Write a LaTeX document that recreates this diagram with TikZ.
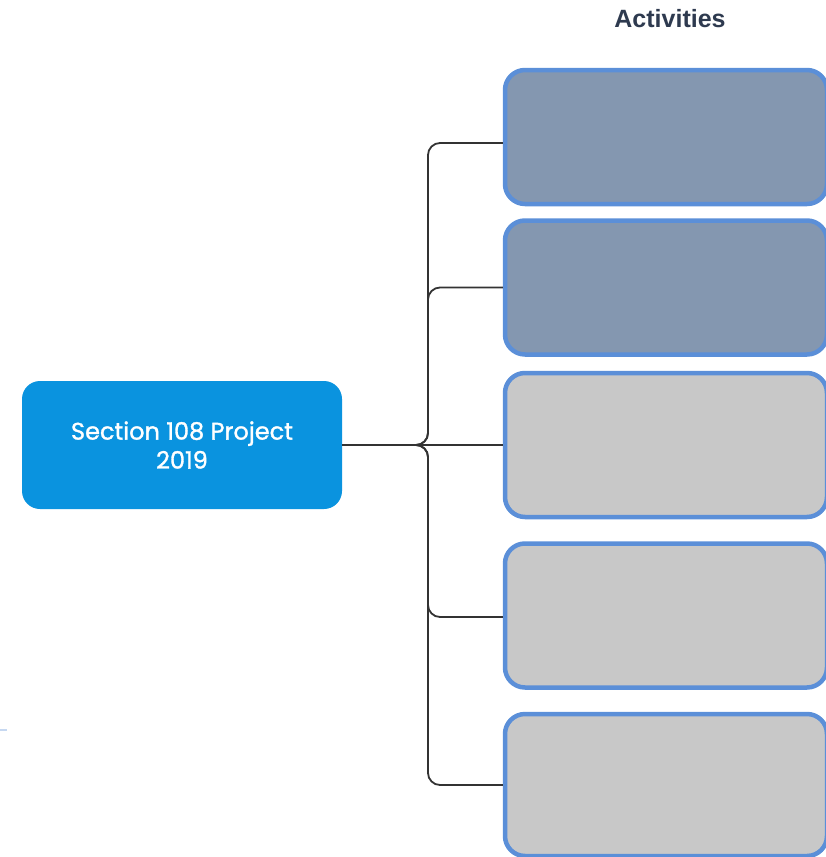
\documentclass[tikz,border=0pt]{standalone}
\usepackage{fontspec}
\setmainfont{Poppins}
\newfontfamily\rootfont{Poppins}[FakeBold=1.3]
\newfontfamily\headfont{Liberation Sans}
\usepackage{tikz}
\definecolor{rootblue}{HTML}{0A93DF}
\definecolor{actslate}{HTML}{8497B0}
\definecolor{actgray}{HTML}{C8C8C8}
\definecolor{actedge}{HTML}{5B8FD8}
\definecolor{headtext}{HTML}{2E3A4F}
\tikzset{
  rootbox/.style={rectangle,rounded corners=18pt,fill=rootblue,text=white,
    minimum width=320pt,minimum height=128pt,align=center,
    font=\rootfont\fontsize{24}{29}\selectfont},
  actbox/.style={rectangle,rounded corners=20pt,draw=actedge,line width=4.5pt,
    minimum width=322pt,minimum height=#1},
  link/.style={draw=black!80,line width=1.8pt,rounded corners=12pt}
}
\begin{document}
\begin{tikzpicture}[x=1pt,y=-1pt]
    \useasboundingbox (0,0) rectangle (826,857);
    %heading over the column of boxes
    \node[font=\headfont\bfseries\fontsize{25}{28}\selectfont,text=headtext] (head) at (670,19) {Activities};
    \node[rootbox] (root) at (182,445) {Section 108 Project\\2019};
    \node[actbox=134pt,fill=actslate] (act1) at (666,137) {};
    \node[actbox=134pt,fill=actslate] (act2) at (666,287.5) {};
    \node[actbox=144pt,fill=actgray] (act3) at (666,445) {};
    \node[actbox=144pt,fill=actgray] (act4) at (666,615.5) {};
    \node[actbox=142pt,fill=actgray] (act5) at (666,785) {};
    %bracket from the project to each activity
    \draw[link] (root.east) -- (428,445) |- ([yshift=-6pt]act1.west);
    \draw[link] (root.east) -- (428,445) |- (act2.west);
    \draw[link,line width=1.2pt] (root.east) -- (act3.west);
    \draw[link] (root.east) -- (428,445) |- ([yshift=-1.5pt]act4.west);
    \draw[link] (root.east) -- (428,445) |- (act5.west);
    \draw[actedge!35,line width=2pt] (0,730) -- (7,730);
\end{tikzpicture}
\end{document}
